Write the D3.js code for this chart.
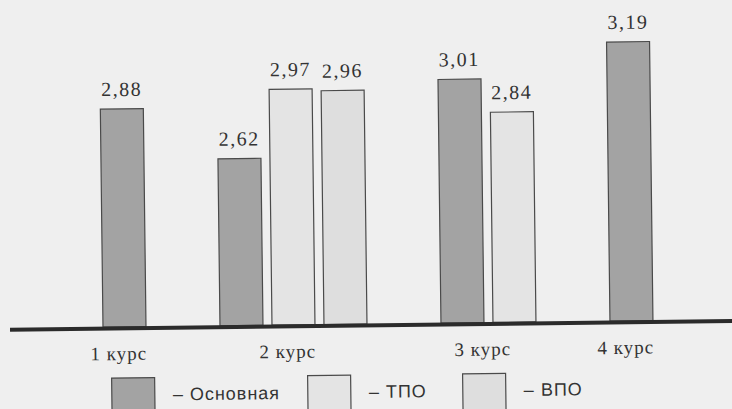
<!DOCTYPE html>
<html>
<head>
<meta charset="utf-8">
<script src="https://cdn.jsdelivr.net/npm/d3@7"></script>
<style>
  body { margin: 0; background: #efefef; }
  svg { display: block; }
</style>
</head>
<body>
<div id="canvas"></div>
<script>
// data
const courses = ["1 курс", "2 курс", "3 курс", "4 курс"];
const seriesNames = ["Основная", "ТПО", "ВПО"];
const osnovnaya = [2.88, 2.62, 3.01, 3.19];
const tpo = [null, 2.97, 2.84, null];
const vpo = [null, 2.96, null, null];

const dims = { width: 732, height: 409 };
const baseY = 324;
const barW = 43, barStep = 52, groupGap = 65; // extra space between groups

const fills = { "Основная": "#a3a3a3", "ТПО": "#e4e4e4", "ВПО": "#dedede" };
const legendX = [111, 307, 462];
const serif = "'Liberation Serif', 'Times New Roman', serif";

const seriesValues = [osnovnaya, tpo, vpo];

// groups are packed one after another, only bars that exist take a slot
let slot = 0;
const groups = courses.map((c, i) => {
  const bars = seriesNames
    .map((s, j) => ({ series: s, value: seriesValues[j][i] }))
    .filter(d => d.value != null)
    .map(d => ({ ...d, pos: slot++ + i * groupGap / barStep }));
  return { course: c, bars };
});

const fmt = v => d3.format(".2f")(v).replace(".", ",");

const svg = d3
  .select("#canvas")
  .append("svg")
  .attr("width", dims.width)
  .attr("height", dims.height)
  .style("background-color", "#efefef");

// the scan is slightly tilted
const graph = svg.append("g").attr("transform", "rotate(-0.7, 366, 326)");

const xScale = d3.scaleLinear().domain([0, 1]).range([103, 103 + barStep]);
const yScale = d3.scaleLinear().domain([1.77, 3.19]).range([baseY, 45]);

const allBars = groups.flatMap(g => g.bars);

graph
  .selectAll("rect.bar")
  .data(allBars)
  .enter()
  .append("rect")
  .attr("class", "bar")
  .attr("x", d => xScale(d.pos))
  .attr("y", d => yScale(d.value))
  .attr("width", barW)
  .attr("height", d => baseY - yScale(d.value))
  .attr("fill", d => fills[d.series])
  .attr("stroke", "#4a4a4a")
  .attr("stroke-width", 1.2);

graph
  .selectAll("text.val")
  .data(allBars)
  .enter()
  .append("text")
  .attr("class", "val")
  .attr("x", d => xScale(d.pos) + barW / 2)
  .attr("y", d => yScale(d.value) - 13)
  .attr("text-anchor", "middle")
  .style("font-family", serif)
  .attr("font-size", 20)
  .attr("letter-spacing", 1.5)
  .attr("fill", "#333")
  .text(d => fmt(d.value));

// baseline
graph
  .append("line")
  .attr("x1", 10)
  .attr("x2", 745)
  .attr("y1", baseY + 1.5)
  .attr("y2", baseY + 1.5)
  .attr("stroke", "#2b2b2b")
  .attr("stroke-width", 4);

// category labels, centred under each group
const groupCenter = g => {
  const first = g.bars[0], last = g.bars[g.bars.length - 1];
  return (xScale(first.pos) + xScale(last.pos) + barW) / 2;
};

graph
  .selectAll("text.cat")
  .data(groups)
  .enter()
  .append("text")
  .attr("class", "cat")
  .attr("x", d => groupCenter(d) - 6)
  .attr("y", 357)
  .attr("text-anchor", "middle")
  .style("font-family", serif)
  .attr("font-size", 19)
  .attr("letter-spacing", 1)
  .attr("fill", "#333")
  .text(d => d.course);

// legend
const legendGroup = graph
  .selectAll("g.legend")
  .data(seriesNames)
  .enter()
  .append("g")
  .attr("class", "legend")
  .attr("transform", (d, i) => `translate(${legendX[i]}, 375)`);

legendGroup
  .append("rect")
  .attr("width", barW)
  .attr("height", 45)
  .attr("fill", d => fills[d])
  .attr("stroke", "#4a4a4a")
  .attr("stroke-width", 1.2);

legendGroup
  .append("text")
  .attr("x", barW + 18)
  .attr("y", 23)
  .style("font-family", "'Liberation Sans', Arial, sans-serif")
  .attr("font-size", 18)
  .attr("letter-spacing", 1)
  .attr("fill", "#333")
  .text(d => "– " + d);
</script>
</body>
</html>
